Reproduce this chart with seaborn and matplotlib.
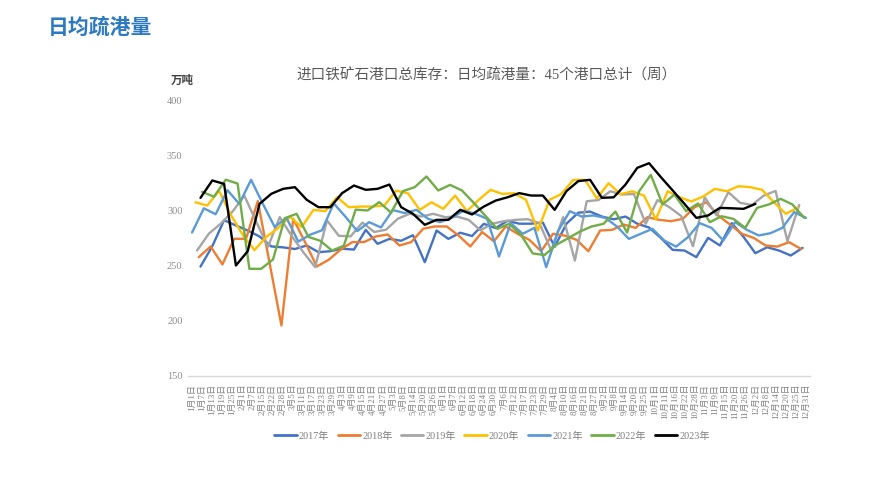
import numpy as np
import pandas as pd
import matplotlib
matplotlib.use("Agg")
import matplotlib.pyplot as plt
from matplotlib.lines import Line2D
import seaborn as sns

# ---------------- data ----------------
years = [2017, 2018, 2019, 2020, 2021, 2022, 2023]
nan = np.nan
v2017 = [249, 267.5, 291.2, 286.4, 281.8, 276.4, 267.3, 266.5, 265, 268.2,
         262.1, 263, 265.2, 264.5, 282.4, 269.7, 274.2, 272.5, 277.5, 253,
         281.8, 274.2, 279.8, 276.8, 287.9, 284, 290.6, 288, 288, 289,
         267, 288, 298, 299, 294.5, 292, 294.5, 288, 284.5, 275,
         264.2, 263.6, 257.6, 275.1, 268.2, 288.5, 276, 261.2, 266.6, 263.6,
         259.1, 266]
v2018 = [257.6, 267.3, 251, 274.3, 274.3, 308.5, nan, 195.5, 292.5, 271.3,
         249.1, 255.2, 264.3, 271.3, 271.3, 276.4, 278.2, 268.2, 271.3, 283.4,
         285.5, 285.5, 277.3, 267.3, 280.4, 272, 285.4, 278.8, 273.3, 263,
         278.8, 277.2, 273.3, 263, 281.8, 282.4, 287.2, 284.2, 293.9, 291.5,
         290.3, 292.4, 303, 307.5, 295.4, 287.2, 278.8, 275.1, 268.2, 267.2,
         271.2, 265.1]
v2019 = [263.7, 279, 288, 299, 313.5, 290, 267, 294, 277, 262,
         248.5, 291, 277, 276.5, 289, 280.5, 282.5, 292.5, 297, 294.5,
         297, 294, 294.5, 291.5, 282, 288, 290.3, 291.5, 292.1, 288.4,
         263.6, 293.9, 254.5, 308.4, 309.5, 317.5, 314.5, 315, 288, 309.5,
         303, 295, 267.5, 312, 295.5, 316.6, 307, 305, 313.6, 317.8,
         272.1, 305]
v2020 = [307.5, 304.5, 318, 296, 278, 264, 276, 284, 294.3, 285,
         300.6, 299.4, 312, 303, 303.6, 303.6, 304.5, 318, 315.7, 300.6,
         307.5, 301.5, 313.6, 299.4, 309.7, 318.8, 315.1, 315.7, 309.7, 281.8,
         309.7, 315.1, 327.8, 327.8, 311, 324.8, 314.8, 317.5, 313.5, 292,
         317.5, 312.1, 308.2, 312.7, 319.7, 317.5, 322.1, 321.2, 318.8, 307.5,
         297, 302.4]
v2021 = [280, 302, 296.6, 318.5, 306, 327.9, 306, 285, 293.4, 271.7,
         278, 282, 306.4, 294.3, 281.3, 289.4, 284.6, 300.4, 297.7, 300.6,
         292.4, 289.4, 293.3, 300, 297, 292.4, 258.2, 288.5, 278.8, 284.2,
         248.5, 281.2, 299.4, 294.5, 295.5, 293.3, 285.4, 274.2, 278.8, 283.3,
         272.7, 267.2, 275.7, 288.5, 284.2, 272.7, 289.4, 282.4, 277.3, 279.4,
         284.2, 298.5, 293.3]
v2022 = [317, 312.5, 328, 324.5, 247, 247, 255.5, 293, 297, 276,
         272.5, 263.6, 268, 300.8, 300, 307.6, 298, 317.6, 321.2, 330.9,
         318.2, 323.3, 318.2, 307, 295, 283.3, 287.9, 277.9, 261, 259.5,
         268.8, 274.8, 280.9, 285.5, 287.9, 299, 280, 317.3, 332.4, 305.5,
         314.5, 299.4, 306.4, 289.4, 294.8, 292.4, 284.2, 302.4, 305.5, 310.6,
         305.5, 293.3]
v2023 = [311.5, 327.3, 324.2, 250, 263, 306, 315.2, 319.7, 321.2, 309.7,
         303, 303, 315.8, 322.7, 318.8, 319.7, 323.6, 303, 297, 287,
         291.5, 291.5, 300.6, 296.4, 303.6, 309, 312, 315.8, 313.6, 313.6,
         300.6, 317.6, 326.7, 327.9, 311.5, 312, 323.6, 338.8, 343, 330.3,
         318.2, 306, 293.3, 295.5, 302.4, 302, 301.5, 306]
series = [v2017, v2018, v2019, v2020, v2021, v2022, v2023]
labels = [f"{y}年" for y in years]
colors = ["#4472C4", "#ED7D31", "#A5A5A5", "#FFC000", "#5B9BD5", "#70AD47", "#000000"]

tick_labels = ["1月1日", "1月7日", "1月13日", "1月19日", "1月25日",
               "2月1日", "2月7日", "2月15日", "2月22日", "2月28日",
               "3月5日", "3月11日", "3月17日", "3月23日", "3月29日",
               "4月3日", "4月9日", "4月15日", "4月21日", "4月27日",
               "5月3日", "5月8日", "5月14日", "5月20日", "5月26日",
               "6月1日", "6月7日", "6月12日", "6月18日", "6月24日", "6月30日",
               "7月6日", "7月12日", "7月17日", "7月23日", "7月29日",
               "8月4日", "8月10日", "8月16日", "8月21日", "8月27日",
               "9月2日", "9月8日", "9月14日", "9月20日", "9月25日",
               "10月1日", "10月11日", "10月16日", "10月22日", "10月28日",
               "11月3日", "11月9日", "11月15日", "11月20日", "11月26日",
               "12月2日", "12月8日", "12月14日", "12月20日", "12月25日", "12月31日"]

# weekly (Friday) observations, positioned by day of year
frames = []
for y, lab, vals in zip(years, labels, series):
    dates = pd.date_range(start=f"{y}-01-01", periods=len(vals), freq="W-FRI")
    frames.append(pd.DataFrame({"day": dates.dayofyear - 1, "value": vals, "year": lab}))
df = pd.concat(frames, ignore_index=True).dropna()

# ---------------- plot ----------------
sns.set_theme(style="white")
plt.rcParams["font.family"] = ["Liberation Serif", "Noto Sans CJK SC", "DejaVu Sans"]

W, H = 893, 479
fig = plt.figure(figsize=(W / 100, H / 100), dpi=100)
ax = fig.add_axes([188 / W, (H - 375.5) / H, (810 - 188) / W, 275 / H])

sns.lineplot(data=df, x="day", y="value", hue="year", hue_order=labels,
             palette=dict(zip(labels, colors)), linewidth=1.7, legend=False,
             sort=True, ax=ax, estimator=None)

ax.set_xlim(-2.4, 366.4)
ax.set_ylim(150, 400)
ax.set_yticks([150, 200, 250, 300, 350, 400])
ax.set_xticks(np.linspace(0, 364, len(tick_labels)))
ax.set_xticklabels(tick_labels, rotation=90, fontsize=6.4, color="#7f7f7f",
                   family=["Liberation Serif", "Noto Sans CJK SC"])
ax.tick_params(axis="y", labelsize=7.5, labelcolor="#8c8c8c", length=0, pad=4)
ax.tick_params(axis="x", length=0, pad=6)
ax.set_xlabel("")
ax.set_ylabel("")
for s in ["top", "right", "left"]:
    ax.spines[s].set_visible(False)
ax.spines["bottom"].set_color("#d9d9d9")
ax.spines["bottom"].set_linewidth(1.0)
ax.grid(False)

fig.text(48 / W, 1 - 27 / H, "日均疏港量", fontsize=15, fontweight="bold",
         color="#2B79C2", ha="left", va="center", family=["Noto Sans CJK SC"])
fig.text(171 / W, 1 - 80 / H, "万吨", fontsize=8.3, fontweight="bold", color="#404040",
         ha="left", va="center", family=["Noto Sans CJK SC"])
fig.text(487 / W, 1 - 75 / H, "进口铁矿石港口总库存：日均疏港量：45个港口总计（周）",
         fontsize=10.5, color="#595959", ha="center", va="center",
         family=["Liberation Serif", "Noto Sans CJK SC"])

handles = [Line2D([], [], color=c, lw=2) for c in colors]
leg = fig.legend(handles, labels, loc="center", bbox_to_anchor=(492 / W, 1 - 436 / H),
                 ncol=7, frameon=False, fontsize=7.3, handlelength=2.2,
                 handletextpad=0.2, columnspacing=0.85)
for t in leg.get_texts():
    t.set_color("#7f7f7f")

fig.savefig("out.png", dpi=100)
